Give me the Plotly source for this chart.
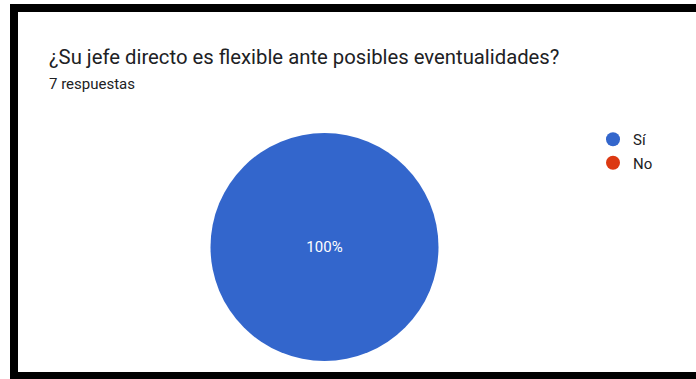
import plotly.graph_objects as go

W, H = 696, 379

# Survey answers
categories = ["Sí", "No"]
responses = [7, 0]
colors = ["#3366cc", "#dc3912"]
question = "¿Su jefe directo es flexible ante posibles eventualidades?"
subtitle = f"{sum(responses)} respuestas"

fig = go.Figure()

def px_x(v):
    return v / W

def px_y(v):
    return 1 - v / H

fig.add_trace(go.Pie(
    labels=categories,
    values=responses,
    marker=dict(colors=colors, line=dict(width=0)),
    sort=False,
    direction="clockwise",
    textinfo="percent",
    texttemplate="%{percent:.0%}",
    textposition="inside",
    insidetextfont=dict(family="Roboto", size=15, color="white"),
    domain=dict(x=[px_x(210.5), px_x(438.5)], y=[px_y(361), px_y(133)]),
    showlegend=False,
    hoverinfo="label+percent",
))

# Legend entries with round markers
for i, (cat, col) in enumerate(zip(categories, colors)):
    fig.add_trace(go.Scatter(
        x=[None], y=[None], mode="markers", name=cat,
        marker=dict(symbol="circle", size=14, color=col),
        legendgroup=f"g{i}", showlegend=True,
    ))

fig.update_layout(
    width=W, height=H,
    margin=dict(l=0, r=0, t=0, b=0),
    paper_bgcolor="white",
    plot_bgcolor="white",
    xaxis=dict(visible=False),
    yaxis=dict(visible=False),
    font=dict(family="Roboto", color="#202124"),
    legend=dict(
        x=px_x(593), y=px_y(123), xanchor="left", yanchor="top",
        font=dict(family="Roboto", size=15, color="#202124"),
        tracegroupgap=1, itemwidth=30, bgcolor="rgba(0,0,0,0)",
    ),
    annotations=[
        dict(text=question, x=px_x(47), y=px_y(57), xref="paper", yref="paper",
             xanchor="left", yanchor="middle", showarrow=False,
             font=dict(family="Roboto", size=20.3, color="#202124")),
        dict(text=subtitle, x=px_x(47), y=px_y(84), xref="paper", yref="paper",
             xanchor="left", yanchor="middle", showarrow=False,
             font=dict(family="Roboto", size=15, color="#202124")),
    ],
    shapes=[
        # black frame
        dict(type="rect", xref="paper", yref="paper", x0=px_x(10), x1=px_x(W), y0=px_y(4), y1=px_y(12),
             fillcolor="black", line=dict(width=0), layer="above"),
        dict(type="rect", xref="paper", yref="paper", x0=px_x(10), x1=px_x(18), y0=px_y(4), y1=px_y(H),
             fillcolor="black", line=dict(width=0), layer="above"),
        dict(type="rect", xref="paper", yref="paper", x0=px_x(10), x1=px_x(W), y0=px_y(372), y1=px_y(H),
             fillcolor="black", line=dict(width=0), layer="above"),
    ],
)

fig.write_html("out.html")
